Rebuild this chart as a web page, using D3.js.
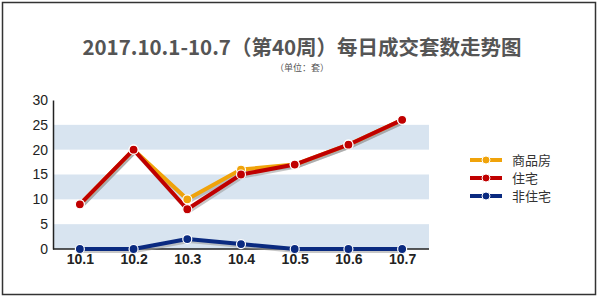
<!DOCTYPE html>
<html><head><meta charset="utf-8">
<script src="https://cdn.jsdelivr.net/npm/d3@7"></script>
<style>body{margin:0;background:#fff}svg{display:block}</style>
</head><body>
<svg id="c" width="600" height="300"></svg>
<script>
const categories = ["10.1","10.2","10.3","10.4","10.5","10.6","10.7"];
const seriesNames = ["商品房","住宅","非住宅"];
const commercial = [9,20,10,16,17,21,26];
const residential = [9,20,8,15,17,21,26];
const nonResidential = [0,0,2,1,0,0,0];
const yTicks = [0,5,10,15,20,25,30];
const colors = ["#f0a30a","#c00000","#0a2a80"];
const series = [commercial, residential, nonResidential];

(function(){
const svg = d3.select("#c");
svg.append("rect").attr("x",2.5).attr("y",2.5).attr("width",593).attr("height",292)
  .attr("fill","#fff").attr("stroke","#333").attr("stroke-width",1.5);

svg.append("text").attr("x",302).attr("y",55).attr("text-anchor","middle")
  .attr("font-family","'Noto Sans CJK SC', Arial, sans-serif").attr("font-weight","bold")
  .attr("font-size",20.5).attr("fill","#555")
  .text("2017.10.1-10.7（第40周）每日成交套数走势图");
svg.append("text").attr("x",302).attr("y",71).attr("text-anchor","middle")
  .attr("font-family","'Noto Sans CJK SC', sans-serif")
  .attr("font-size",9).attr("fill","#555").text("（单位：套）");

const mLeft = 53, mRight = 429, mTop = 100, mBottom = 249;
const x = d3.scalePoint().domain(categories).range([mLeft,mRight]).padding(0.5);
const y = d3.scaleLinear().domain([0,30]).range([mBottom,mTop]);

const bands = [[0,5],[10,15],[20,25]];
svg.selectAll(".band").data(bands).enter().append("rect")
  .attr("x",mLeft).attr("width",mRight-mLeft)
  .attr("y",d=>y(d[1])).attr("height",d=>y(d[0])-y(d[1]))
  .attr("fill","#d8e4f0");

const ya = svg.append("g").attr("transform",`translate(${mLeft},0)`)
  .call(d3.axisLeft(y).tickValues(yTicks).tickSize(0).tickPadding(5));
ya.select(".domain").attr("stroke","#222").attr("stroke-width",1.5);
ya.selectAll("text").attr("font-family","Arial, 'Liberation Sans', sans-serif").attr("font-size",14).attr("fill","#222");

const xa = svg.append("g").attr("transform",`translate(0,${mBottom})`)
  .call(d3.axisBottom(x).tickSize(0).tickPadding(5));
xa.select(".domain").attr("stroke","#222").attr("stroke-width",1.5).attr("d",`M${mLeft},0H${mRight}`);
xa.selectAll("text").attr("font-family","Arial, 'Liberation Sans', sans-serif").attr("font-weight","bold").attr("font-size",14).attr("fill","#222");

const line = d3.line().x((d,i)=>x(categories[i])).y(d=>y(d));

series.forEach((s)=>{
  svg.append("path").datum(s).attr("d",line).attr("fill","none")
    .attr("stroke","#999").attr("stroke-opacity",0.55).attr("stroke-width",4)
    .attr("transform","translate(1.5,2)").attr("stroke-linejoin","round");
});
series.forEach((s,k)=>{
  svg.append("path").datum(s).attr("d",line).attr("fill","none")
    .attr("stroke",colors[k]).attr("stroke-width",4).attr("stroke-linejoin","round");
});
series.forEach((s,k)=>{
  svg.selectAll(".pt"+k).data(s).enter().append("circle")
    .attr("cx",(d,i)=>x(categories[i])).attr("cy",d=>y(d)).attr("r",4.5)
    .attr("fill",colors[k]).attr("stroke","#fff").attr("stroke-width",1.2);
});

const lg = svg.append("g");
seriesNames.forEach((n,k)=>{
  const ly = 160 + k*18;
  lg.append("line").attr("x1",470).attr("x2",502).attr("y1",ly).attr("y2",ly)
    .attr("stroke",colors[k]).attr("stroke-width",4);
  lg.append("circle").attr("cx",486).attr("cy",ly).attr("r",4)
    .attr("fill",colors[k]).attr("stroke","#fff").attr("stroke-width",1);
  lg.append("text").attr("x",512).attr("y",ly+4.5).attr("font-size",13)
    .attr("font-family","'Noto Sans CJK SC', sans-serif").attr("fill","#333").text(n);
});
})();
</script>
</body></html>
